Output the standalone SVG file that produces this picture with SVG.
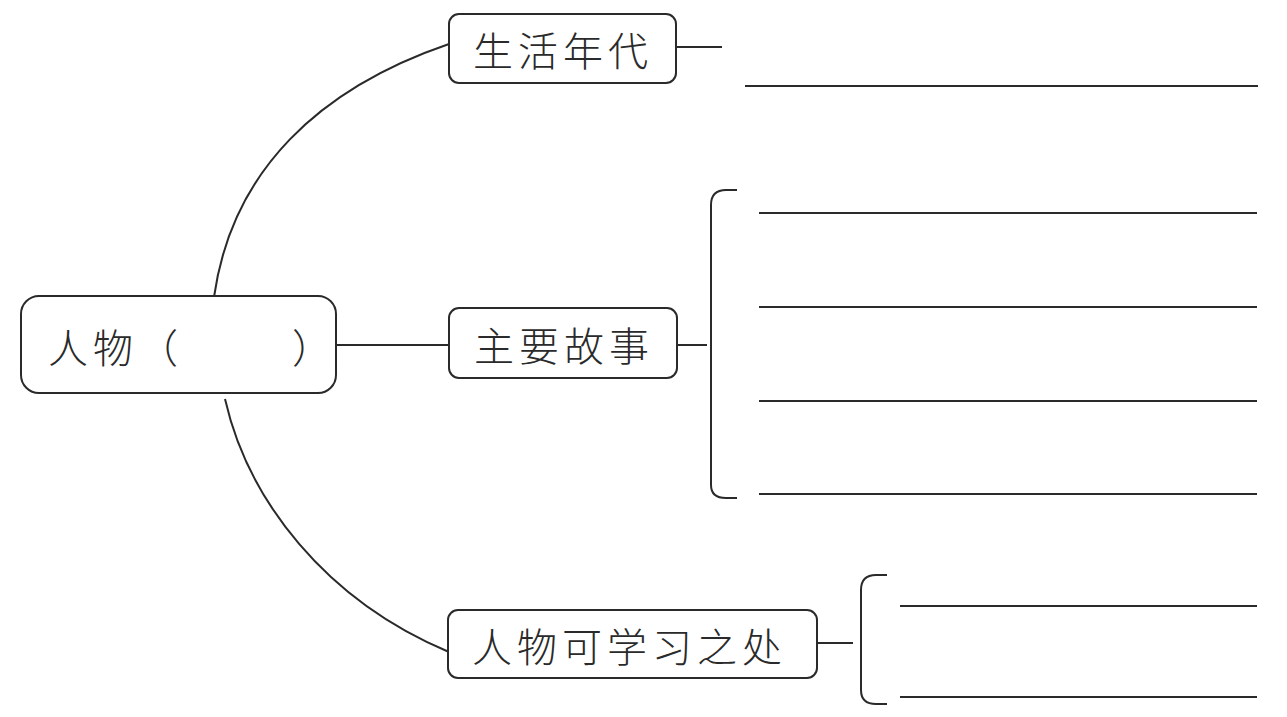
<svg xmlns="http://www.w3.org/2000/svg" width="1287" height="717" viewBox="0 0 1287 717">
<style>
.box{fill:#fff;stroke:#2a2a2a;stroke-width:2}
.ln{fill:none;stroke:#2a2a2a;stroke-width:2}
.t{font-family:"Noto Sans CJK SC","Noto Sans CJK JP",sans-serif;font-size:40px;font-weight:300;fill:#2a2a2a;dominant-baseline:central;letter-spacing:5px}
</style>
<rect width="1287" height="717" fill="#fff"/>
<g id="connectors">
<path class="ln" d="M214,297 C232,170 320,88 449,44"/>
<path class="ln" d="M225,399 C248,500 325,600 449,652"/>
<line class="ln" x1="336" y1="345" x2="450" y2="345"/>
<line class="ln" x1="676" y1="47" x2="722" y2="47"/>
<line class="ln" x1="677" y1="345" x2="707" y2="345"/>
<line class="ln" x1="817" y1="643" x2="853" y2="643"/>
<path class="ln" d="M737,190 L726,190 Q711,190 711,205 L711,485 Q711,498 726,498 L737,498"/>
<path class="ln" d="M887,575 L876,575 Q861,575 861,590 L861,690 Q861,704 876,704 L887,704"/>
<line class="ln" x1="745" y1="86" x2="1258" y2="86"/>
<line class="ln" x1="759" y1="213" x2="1257" y2="213"/>
<line class="ln" x1="759" y1="307" x2="1257" y2="307"/>
<line class="ln" x1="759" y1="401" x2="1257" y2="401"/>
<line class="ln" x1="759" y1="494" x2="1257" y2="494"/>
<line class="ln" x1="900" y1="606" x2="1257" y2="606"/>
<line class="ln" x1="900" y1="697" x2="1257" y2="697"/>
</g>
<g id="node-person">
<rect class="box" x="21" y="296" width="315" height="97" rx="18"/>
<text class="t" x="48" y="346">人物（</text>
<text class="t" x="292" y="346">）</text>
</g>
<g id="node-era">
<rect class="box" x="449" y="14" width="227" height="69" rx="10"/>
<text class="t" x="473" y="49">生活年代</text>
</g>
<g id="node-story">
<rect class="box" x="449" y="308" width="228" height="70" rx="10"/>
<text class="t" x="474" y="344">主要故事</text>
</g>
<g id="node-learn">
<rect class="box" x="448" y="610" width="369" height="68" rx="10"/>
<text class="t" x="472" y="645">人物可学习之处</text>
</g>
</svg>
